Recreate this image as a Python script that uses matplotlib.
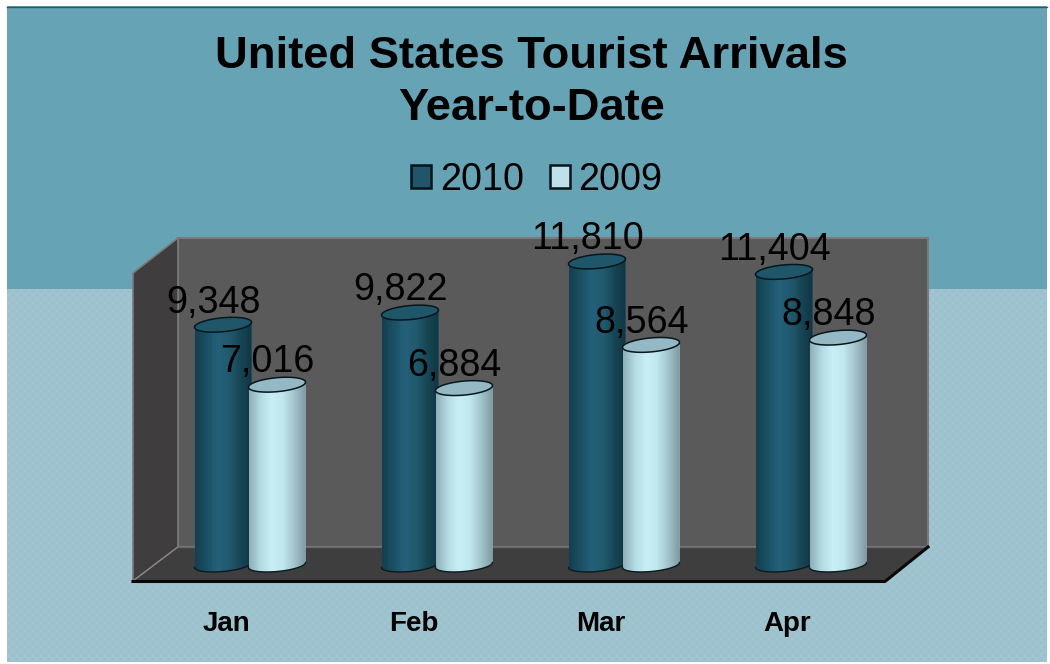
import numpy as np
import matplotlib
matplotlib.use("Agg")
import matplotlib.pyplot as plt
from matplotlib.colors import LinearSegmentedColormap
from matplotlib.patches import Patch, PathPatch, Polygon, Rectangle
from matplotlib.path import Path

plt.rcParams['font.family'] = ['Liberation Sans', 'DejaVu Sans']

# data
months = ["Jan", "Feb", "Mar", "Apr"]
values_2010 = [9348, 9822, 11810, 11404]
values_2009 = [7016, 6884, 8564, 8848]

W, H = 1050, 664
fig = plt.figure(figsize=(W / 100, H / 100), dpi=100, facecolor="white")

# background and 3d box, in pixel coordinates
bg = fig.add_axes([0, 0, 1, 1])
bg.axis("off")
bg.add_patch(Rectangle((7, 6), 1040, 283, fc="#66A3B5", ec="none"))
# faint checker dither on the lower band
yy, xx = np.mgrid[0:373, 0:1040]
dither = ((xx // 4 + yy // 4) % 2).astype(float)
dither_cmap = LinearSegmentedColormap.from_list("dither", ["#9AC1CC", "#A0C5D0"])
bg.imshow(dither, cmap=dither_cmap, extent=(7, 1047, 662, 289), aspect="auto", interpolation="nearest")
bg.set_xlim(0, W)
bg.set_ylim(H, 0)
bg.plot([7, 1047], [6.5, 6.5], color="#2F5560", lw=1)

bg.add_patch(Polygon([(178, 238), (928, 238), (928, 547), (178, 547)], fc="#5A5A5A", ec="#7A7A7A", lw=1.5))
bg.add_patch(Polygon([(133, 273), (178, 238), (178, 547), (133, 581)], fc="#3F3D3D", ec="#7A7A7A", lw=1.2))
bg.add_patch(Polygon([(133, 581), (178, 547), (928, 547), (885, 581)], fc="#3E3E3E", ec="none"))
bg.plot([133, 178], [581, 547], color="#8A8A8A", lw=0.9)
bg.plot([178, 928], [547, 547], color="#666666", lw=1)
bg.plot([133, 885, 928], [581.5, 581.5, 547], color="#080808", lw=2.2)

bg.text(531.5, 57, "United States Tourist Arrivals", ha="center", va="center", fontsize=32.7, fontweight="bold", color="black")
bg.text(531.5, 109, "Year-to-Date", ha="center", va="center", fontsize=32.7, fontweight="bold", color="black")

# axes holding the data
scale = 0.0257  # pixels per tourist
px_left, px_right, px_top, px_bottom = 133, 885, 238, 600
ax = fig.add_axes([px_left / W, 1 - px_bottom / H, (px_right - px_left) / W, (px_bottom - px_top) / H])
ax.patch.set_alpha(0)
for s in ax.spines.values():
    s.set_visible(False)
ax.set_yticks([])

spacing = 187
xlim = ((px_left - 250) / spacing, (px_right - 250) / spacing)
ylim = ((565 - px_bottom) / scale, (565 - px_top) / scale)
bar_w = 57 / spacing
off = 27 / spacing

dark_cmap = LinearSegmentedColormap.from_list("dark", ["#143F50", "#1C5063", "#25607A", "#215A6E", "#174656", "#103644"])
light_cmap = LinearSegmentedColormap.from_list("light", ["#8FB0B8", "#B4DAE2", "#C8EFF6", "#C0E6EE", "#A3C4CC", "#7F9BA3"])
grad = np.linspace(0, 1, 64).reshape(1, -1)


def cylinder(x, val, cmap, top_col, z):
    a = bar_w / 2
    b = 6.5 / scale
    tilt = 2.5 / scale
    t = np.linspace(np.pi, 2 * np.pi, 40)
    # body outline: curved bottom, then back along the top
    bx = x + a * np.cos(t)
    by = b * np.sin(t) + tilt * np.cos(t)
    verts = list(zip(bx, by)) + list(zip(bx[::-1], val + tilt * np.cos(t[::-1]))) + [(bx[0], by[0])]
    path = Path(verts)
    bar = ax.bar(x, val, width=bar_w, color=cmap(0.4), linewidth=0, zorder=z).patches[0]
    bar.set_clip_path(PathPatch(path, transform=ax.transData))
    im = ax.imshow(grad, cmap=cmap, aspect="auto", extent=(x - a, x + a, -1000, val + 500), zorder=z + 0.1)
    im.set_clip_path(PathPatch(path, transform=ax.transData))
    ax.plot(bx, by, color="#0A1A20", lw=1.0, zorder=z + 0.2)
    u = np.linspace(0, 2 * np.pi, 80)
    top = np.column_stack([x + a * np.cos(u), val + 7 / scale * np.sin(u) + tilt * np.cos(u)])
    ax.add_patch(Polygon(top, closed=True, fc=top_col, ec="#05171D", lw=1.1, zorder=z + 0.3))


for i in range(len(months)):
    cylinder(i - off, values_2010[i], dark_cmap, "#1F566A", 3)
    cylinder(i + off, values_2009[i], light_cmap, "#94B9C4", 4)
    for x, val in ((i - off, values_2010[i]), (i + off, values_2009[i])):
        ax.annotate(f"{val:,}", (x, val), xytext=(-7, 16), textcoords="offset points",
                    ha="center", va="center", fontsize=27.2, color="black", zorder=8)

ax.set_xlim(xlim)
ax.set_ylim(ylim)
ax.set_xticks([i - 23.5 / spacing for i in range(len(months))])
ax.set_xticklabels(months, fontsize=20, fontweight="bold", color="black")
ax.tick_params(axis="x", length=0, pad=8)

handles = [Patch(fc="#1F566A", ec="#06141A", lw=1.8, label="2010"),
           Patch(fc="#BEE0EA", ec="#06141A", lw=1.8, label="2009")]
fig.legend(handles=handles, loc="center", bbox_to_anchor=(537 / W, 1 - 180 / H), ncol=2, frameon=False,
           fontsize=27.2, handlelength=0.53, handleheight=0.53, handletextpad=0.22, columnspacing=0.7,
           borderpad=0, labelspacing=0)

fig.savefig("out.png", dpi=100, facecolor="white")
